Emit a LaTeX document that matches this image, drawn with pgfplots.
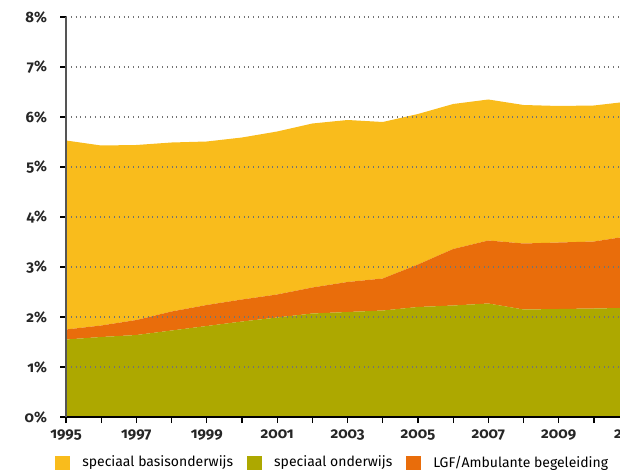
\documentclass[border=0pt]{standalone}
\usepackage{fontspec}
\setmainfont{Fira Sans}[Numbers=OldStyle]
\usepackage{pgfplots}
\usepackage{pgfplotstable}
\pgfplotsset{compat=1.18}
\definecolor{geel}{HTML}{F9BC1C}
\definecolor{groen}{HTML}{ADA800}
\definecolor{oranje}{HTML}{E96D0B}
\definecolor{asgrijs}{HTML}{555555}

% aandeel leerlingen, in procentpunten per categorie (gestapeld)
\pgfplotstableread{
year    so    lgf   sbo
1995    1.55  0.20  3.78
1996    1.60  0.23  3.60
1997    1.64  0.30  3.50
1998    1.73  0.38  3.38
1999    1.82  0.42  3.27
2000    1.91  0.44  3.24
2001    1.99  0.46  3.26
2002    2.07  0.52  3.28
2003    2.10  0.60  3.24
2004    2.13  0.64  3.13
2005    2.20  0.85  3.01
2006    2.23  1.13  2.90
2007    2.27  1.26  2.82
2008    2.15  1.32  2.77
2009    2.16  1.33  2.73
2010    2.17  1.34  2.72
2010.74 2.18  1.41  2.70
}\datatable

\begin{document}
\begin{tikzpicture}
\begin{axis}[
  name=ax,
  set layers, axis on top,
  scale only axis, width=277pt, height=200pt,
  xmin=1995, xmax=2010.74, ymin=0, ymax=8,
  clip=false,
  stack plots=y,
  axis x line*=bottom, axis y line*=left,
  x axis line style={black, line width=0.6pt},
  y axis line style={asgrijs, line width=0.9pt},
  xtick={1995,...,2010},
  xticklabels={1995,,1997,,1999,,2001,,2003,,2005,,2007,,2009,},
  ytick={0,...,8},
  yticklabel={\pgfmathprintnumber{\tick}\%},
  /pgf/number format/assume math mode=true,
  /pgf/number format/1000 sep={},
  tick label style={font=\fontsize{7.5}{9}\selectfont\bfseries, text=black!85},
  yticklabel style={xshift=-3pt},
  tick align=outside, major tick length=3pt,
  tick style={black, line width=0.6pt},
  ymajorgrids,
  grid style={dotted, black!55, line width=0.6pt, /pgfplots/on layer=axis background},
  legend columns=-1,
  legend image code/.code={\fill[#1] (0pt,-3.5pt) rectangle (7.5pt,3.5pt);},
  legend style={at={(-0.02,-0.115)}, anchor=west, draw=none, fill=none,
    font=\fontsize{7}{9}\selectfont, inner sep=0pt,
    /tikz/every odd column/.append style={column sep=4pt},
    /tikz/every even column/.append style={column sep=5pt}},
]
\addlegendimage{fill=geel, draw=none}
\addlegendimage{fill=groen, draw=none}
\addlegendimage{fill=oranje, draw=none}
\addplot[fill=groen, draw=none] table[x=year, y=so] {\datatable} \closedcycle;
\addplot[fill=oranje, draw=none] table[x=year, y=lgf] {\datatable} \closedcycle;
\addplot[fill=geel, draw=none] table[x=year, y=sbo] {\datatable} \closedcycle;
\legend{speciaal basisonderwijs, speciaal onderwijs, LGF/Ambulante begeleiding}
\node[anchor=north, inner sep=0.333em, yshift=-3pt, font=\fontsize{7.5}{9}\selectfont\bfseries, text=black!85]
  at (axis cs:2011,0) {2011};
\end{axis}
\pgfresetboundingbox
\path[use as bounding box] ([xshift=-33pt, yshift=-27pt]ax.south west) rectangle ([yshift=8.5pt]ax.north east);
\end{tikzpicture}
\end{document}
